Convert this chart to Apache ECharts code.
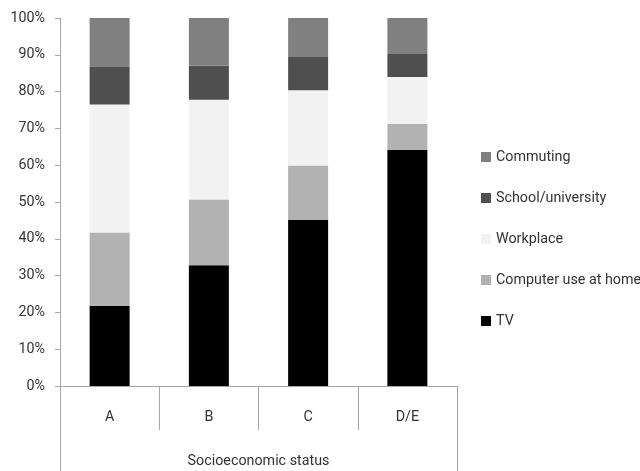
<!DOCTYPE html>
<html>
<head>
<meta charset="utf-8">
<script src="https://cdn.jsdelivr.net/npm/echarts@6/dist/echarts.min.js"></script>
<style>
  html, body { margin: 0; padding: 0; background: #fff; }
  #chart { width: 640px; height: 471px; }
</style>
</head>
<body>
<div id="chart"></div>
<script>
// Share of time by location/activity, per socioeconomic group (percent)
const categories = ['A', 'B', 'C', 'D/E'];
const groupTitle = 'Socioeconomic status';
const tv = [21.8, 32.8, 45.1, 64.1];
const computerAtHome = [19.9, 17.9, 14.8, 7.1];
const workplace = [34.8, 27.1, 20.5, 12.8];
const schoolUniversity = [10.2, 9.2, 9.0, 6.2];
const commuting = [13.3, 13.0, 10.6, 9.8];
const legendOrder = ['Commuting', 'School/university', 'Workplace', 'Computer use at home', 'TV'];

const FONT = "Roboto, 'Liberation Sans', sans-serif";
const FS = 14.3;
const TEXT = '#333333';
const AXIS = '#a6a6a6';

function stackSeries(name, data, color) {
  return {
    name: name,
    type: 'bar',
    stack: 'total',
    data: data,
    barWidth: 40,
    itemStyle: { color: color },
    emphasis: { disabled: true }
  };
}

const chart = echarts.init(document.getElementById('chart'), null, { renderer: 'canvas' });
chart.setOption({
  animation: false,
  textStyle: { fontFamily: FONT },
  grid: { left: 60, right: 183, top: 18, bottom: 85 },
  legend: {
    orient: 'vertical',
    left: 481,
    top: 147,
    padding: 0,
    icon: 'rect',
    itemWidth: 10,
    itemHeight: 10,
    itemGap: 21,
    data: legendOrder,
    textStyle: { fontFamily: FONT, fontSize: FS, color: TEXT, lineHeight: 20 },
    selectedMode: false
  },
  xAxis: [
    {
      type: 'category',
      data: categories,
      position: 'bottom',
      axisLine: { show: true, lineStyle: { color: AXIS, width: 1 } },
      axisTick: { show: true, interval: 0, length: 44, lineStyle: { color: AXIS } },
      axisLabel: { fontFamily: FONT, fontSize: FS, color: TEXT, margin: 24 },
      splitLine: { show: false }
    },
    {
      type: 'category',
      data: [groupTitle],
      position: 'bottom',
      axisLine: { show: false },
      axisTick: { show: true, length: 85, lineStyle: { color: AXIS } },
      axisLabel: { fontFamily: FONT, fontSize: FS, color: TEXT, margin: 68 },
      splitLine: { show: false }
    }
  ],
  yAxis: {
    type: 'value',
    min: 0,
    max: 100,
    interval: 10,
    axisLine: { show: true, lineStyle: { color: AXIS } },
    axisTick: { show: true, inside: false, length: 5, lineStyle: { color: AXIS } },
    axisLabel: { formatter: '{value}%', fontFamily: FONT, fontSize: FS, color: TEXT, margin: 15 },
    splitLine: { show: false }
  },
  series: [
    stackSeries('TV', tv, '#000000'),
    stackSeries('Computer use at home', computerAtHome, '#b2b2b2'),
    stackSeries('Workplace', workplace, '#f2f2f2'),
    stackSeries('School/university', schoolUniversity, '#4f4f4f'),
    stackSeries('Commuting', commuting, '#808080')
  ]
});
</script>
</body>
</html>
